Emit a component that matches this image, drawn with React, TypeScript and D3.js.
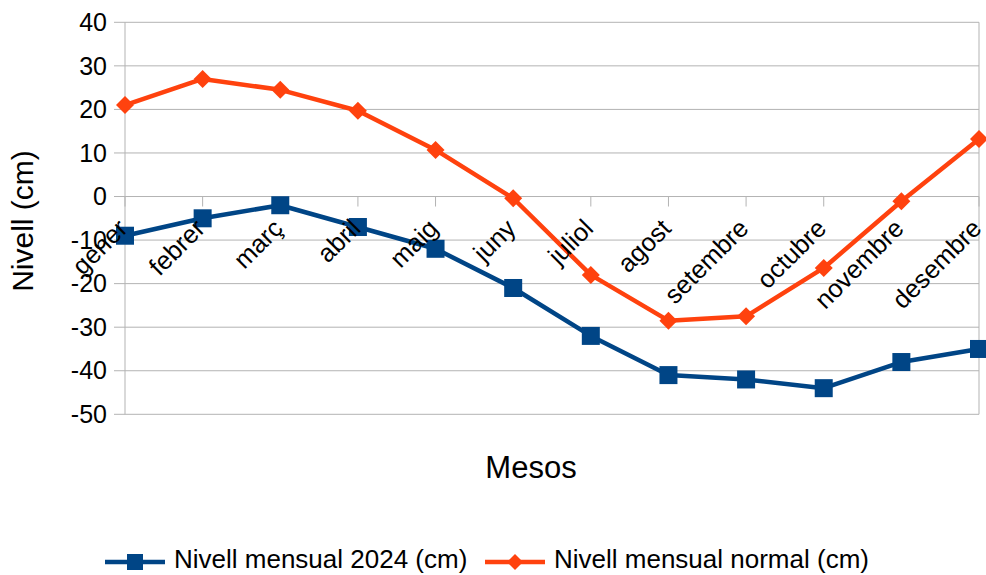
import React, { useEffect, useRef } from 'react';
import * as d3 from 'd3';

const months = ['gener', 'febrer', 'març', 'abril', 'maig', 'juny', 'juliol', 'agost', 'setembre', 'octubre', 'novembre', 'desembre'];
const level2024 = [-9, -5, -2, -7, -12, -21, -32, -41, -42, -44, -38, -35];
const levelNormal = [21, 27, 24.5, 19.7, 10.7, -0.4, -18, -28.5, -27.5, -16.4, -1.1, 13.2];
const yTicks = [40, 30, 20, 10, 0, -10, -20, -30, -40, -50];

const seriesNames = ['Nivell mensual 2024 (cm)', 'Nivell mensual normal (cm)'];
const BLUE = '#004586';
const ORANGE = '#ff420e';
const FONT = '"Liberation Sans", Arial, sans-serif';

const App: React.FC = () => {
  const svgRef = useRef<SVGSVGElement | null>(null);

  useEffect(() => {
    if (!svgRef.current) return;
    const svg = d3.select(svgRef.current);
    svg.selectAll('*').remove();

    const left = 125, right = 979, top = 22.3, bottom = 414.3;

    const x = d3.scalePoint<string>().domain(months).range([left, right]).padding(0);
    const y = d3.scaleLinear().domain([-50, 40]).range([bottom, top]);

    // grid
    svg.append('g')
      .selectAll('line')
      .data(yTicks)
      .enter()
      .append('line')
      .attr('x1', left - 11)
      .attr('x2', right)
      .attr('y1', d => y(d))
      .attr('y2', d => y(d))
      .attr('stroke', '#b3b3b3')
      .attr('stroke-width', 1);

    // left axis + right border
    svg.append('line').attr('x1', left).attr('x2', left).attr('y1', top).attr('y2', bottom)
      .attr('stroke', '#b3b3b3');
    svg.append('line').attr('x1', right).attr('x2', right).attr('y1', top).attr('y2', bottom)
      .attr('stroke', '#b3b3b3');

    // category ticks on the zero line
    svg.append('g')
      .selectAll('line')
      .data(months)
      .enter()
      .append('line')
      .attr('x1', d => x(d)!)
      .attr('x2', d => x(d)!)
      .attr('y1', y(0))
      .attr('y2', y(0) + 10)
      .attr('stroke', '#b3b3b3');

    // y labels
    svg.append('g')
      .selectAll('text')
      .data(yTicks)
      .enter()
      .append('text')
      .attr('x', 107)
      .attr('y', d => y(d))
      .attr('dy', '0.35em')
      .attr('text-anchor', 'end')
      .style('font-family', FONT)
      .style('font-size', '25px')
      .attr('fill', '#000')
      .text(d => d);

    const line = d3.line<number>()
      .x((d, i) => x(months[i])!)
      .y(d => y(d));

    // 2024 series
    svg.append('path')
      .datum(level2024)
      .attr('d', line)
      .attr('fill', 'none')
      .attr('stroke', BLUE)
      .attr('stroke-width', 4.5)
      .attr('stroke-linejoin', 'round');

    svg.append('g')
      .selectAll('rect')
      .data(level2024)
      .enter()
      .append('rect')
      .attr('x', (d, i) => x(months[i])! - 9)
      .attr('y', d => y(d) - 9)
      .attr('width', 18)
      .attr('height', 18)
      .attr('fill', BLUE);

    // normal series
    svg.append('path')
      .datum(levelNormal)
      .attr('d', line)
      .attr('fill', 'none')
      .attr('stroke', ORANGE)
      .attr('stroke-width', 4.5)
      .attr('stroke-linejoin', 'round');

    const diamond = (cx: number, cy: number, r: number) =>
      `M${cx},${cy - r}L${cx + r},${cy}L${cx},${cy + r}L${cx - r},${cy}Z`;

    svg.append('g')
      .selectAll('path')
      .data(levelNormal)
      .enter()
      .append('path')
      .attr('d', (d, i) => diamond(x(months[i])!, y(d), 9))
      .attr('fill', ORANGE);

    // category labels, rotated
    svg.append('g')
      .selectAll('text')
      .data(months)
      .enter()
      .append('text')
      .attr('transform', d => `translate(${x(d)! + 4},230) rotate(-45)`)
      .attr('text-anchor', 'end')
      .style('font-family', FONT)
      .style('font-size', '25.5px')
      .attr('fill', '#000')
      .text(d => d);

    // axis titles
    svg.append('text')
      .attr('transform', 'translate(33,221) rotate(-90)')
      .attr('text-anchor', 'middle')
      .style('font-family', FONT)
      .style('font-size', '30px')
      .text('Nivell (cm)');

    svg.append('text')
      .attr('x', 531)
      .attr('y', 478)
      .attr('text-anchor', 'middle')
      .style('font-family', FONT)
      .style('font-size', '31px')
      .text('Mesos');

    // legend
    const legendY = 562;
    const leg = [
      { name: seriesNames[0], color: BLUE, x0: 105, type: 'square' },
      { name: seriesNames[1], color: ORANGE, x0: 485, type: 'diamond' },
    ];
    leg.forEach(l => {
      svg.append('line')
        .attr('x1', l.x0).attr('x2', l.x0 + 60)
        .attr('y1', legendY).attr('y2', legendY)
        .attr('stroke', l.color).attr('stroke-width', 4.5);
      if (l.type === 'square') {
        svg.append('rect')
          .attr('x', l.x0 + 30 - 8).attr('y', legendY - 8)
          .attr('width', 16).attr('height', 16).attr('fill', l.color);
      } else {
        svg.append('path').attr('d', diamond(l.x0 + 30, legendY, 8)).attr('fill', l.color);
      }
      svg.append('text')
        .attr('x', l.x0 + 69)
        .attr('y', legendY + 6)
        .style('font-family', FONT)
        .style('font-size', '26px')
        .text(l.name);
    });
  }, []);

  return (
    <svg
      ref={svgRef}
      width={986}
      height={575}
      style={{ position: 'absolute', left: 0, top: 0, background: '#fff' }}
    />
  );
};

export default App;
